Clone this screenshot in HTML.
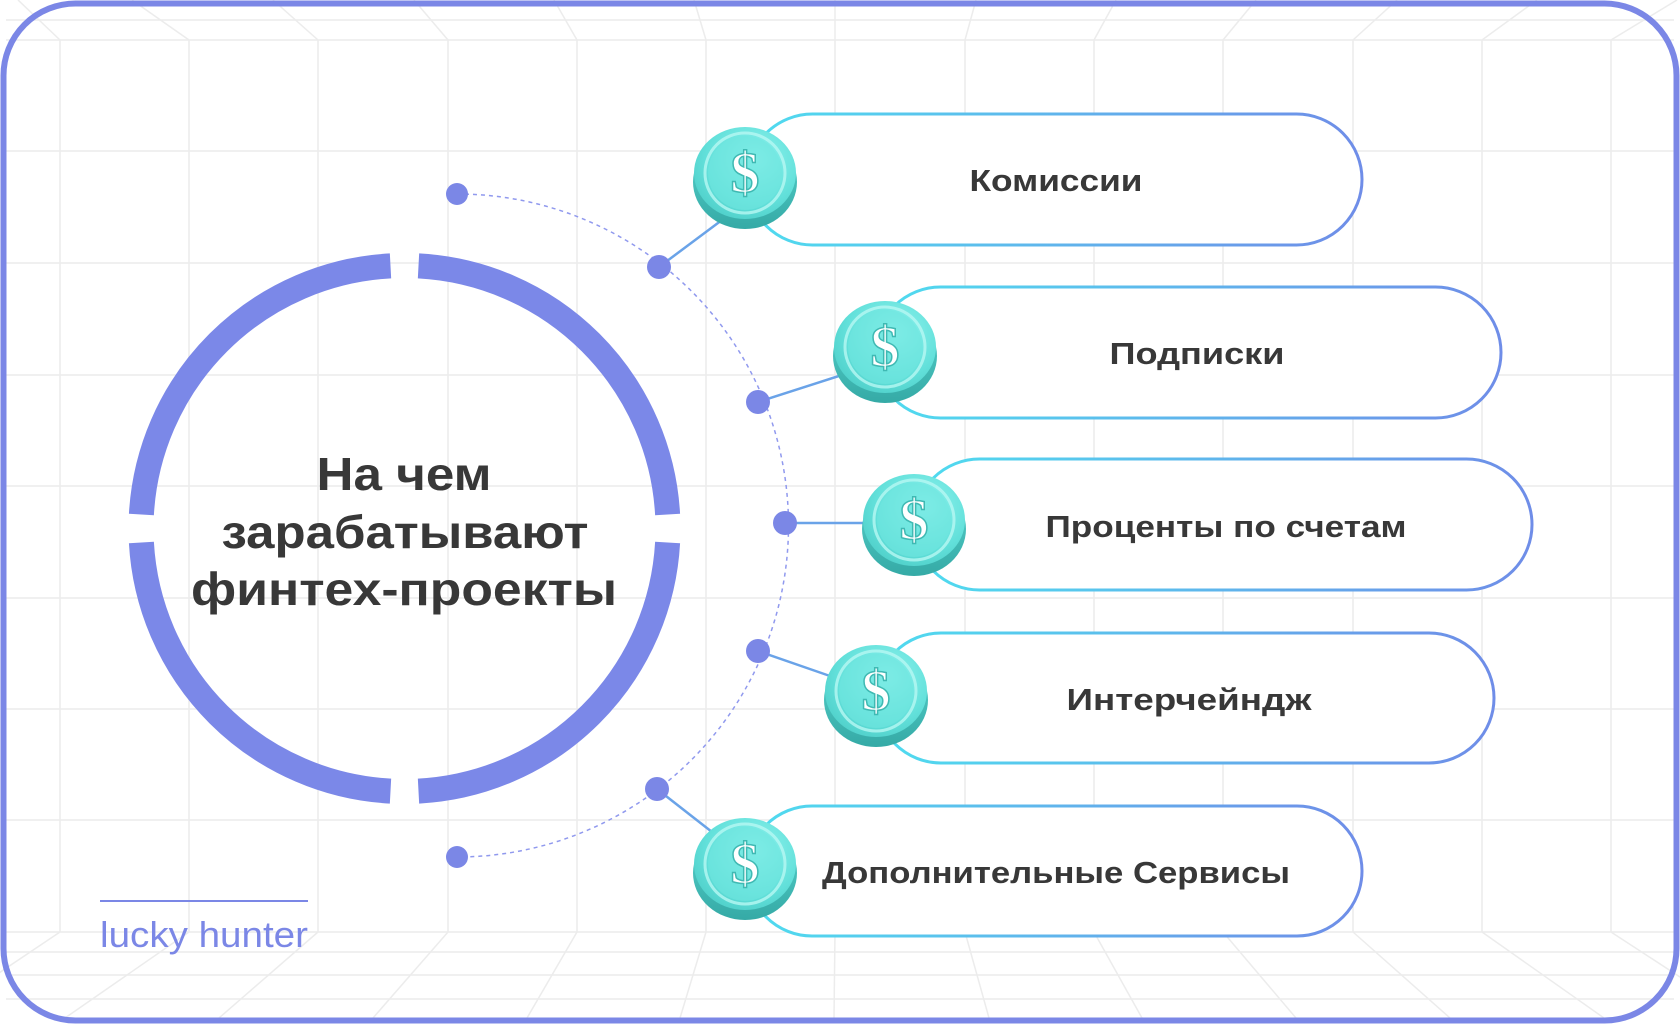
<!DOCTYPE html>
<html><head><meta charset="utf-8"><style>
html,body{margin:0;padding:0;background:#fff;}
svg{display:block;}
</style></head><body>
<svg width="1680" height="1024" viewBox="0 0 1680 1024" xmlns="http://www.w3.org/2000/svg">
<defs>
<linearGradient id="pg" x1="0" y1="0" x2="1" y2="0">
<stop offset="0" stop-color="#4fdcef"/><stop offset="1" stop-color="#6f8de8"/>
</linearGradient>
<radialGradient id="face" cx="0.6" cy="0.35" r="0.8">
<stop offset="0" stop-color="#8ff3ee"/><stop offset="0.6" stop-color="#62e0da"/><stop offset="1" stop-color="#48c9c3"/>
</radialGradient>
<linearGradient id="body" x1="0" y1="0" x2="0" y2="1">
<stop offset="0" stop-color="#5ad6d0"/><stop offset="1" stop-color="#35aaa6"/>
</linearGradient>
<g id="coin">
<ellipse cx="0" cy="9" rx="52" ry="47" fill="url(#body)"/>
<ellipse cx="0" cy="0" rx="51" ry="46" fill="url(#face)"/>
<circle cx="0" cy="0" r="40" fill="none" stroke="#b6f7f3" stroke-width="3" opacity="0.8"/>
<circle cx="0" cy="0" r="37" fill="#6fe6e0" opacity="0.6"/>
<text x="0" y="19" text-anchor="middle" font-family="Liberation Serif, serif" font-size="58" font-weight="bold" fill="#fff" stroke="#3fb9b3" stroke-width="1.5">$</text>
</g>
</defs>
<rect width="1680" height="1024" fill="#fff"/>
<g stroke="#ececec" stroke-width="1.5" fill="none">
<line x1="6" y1="20" x2="1674" y2="20"/>
<line x1="6" y1="40" x2="1674" y2="40"/>
<line x1="6" y1="151" x2="1674" y2="151"/>
<line x1="6" y1="263" x2="1674" y2="263"/>
<line x1="6" y1="375" x2="1674" y2="375"/>
<line x1="6" y1="486" x2="1674" y2="486"/>
<line x1="6" y1="598" x2="1674" y2="598"/>
<line x1="6" y1="709" x2="1674" y2="709"/>
<line x1="6" y1="820" x2="1674" y2="820"/>
<line x1="6" y1="932" x2="1674" y2="932"/>
<line x1="6" y1="952" x2="1674" y2="952"/>
<line x1="6" y1="975" x2="1674" y2="975"/>
<line x1="6" y1="999" x2="1674" y2="999"/>
<line x1="60" y1="40" x2="60" y2="932"/><line x1="60" y1="40" x2="18" y2="0"/><line x1="60" y1="932" x2="-68" y2="1018"/>
<line x1="189" y1="40" x2="132" y2="0"/><line x1="189" y1="40" x2="189" y2="932"/><line x1="189" y1="932" x2="65" y2="1018"/>
<line x1="318" y1="40" x2="273" y2="0"/><line x1="318" y1="40" x2="318" y2="932"/><line x1="318" y1="932" x2="219" y2="1018"/>
<line x1="448" y1="40" x2="414" y2="0"/><line x1="448" y1="40" x2="448" y2="932"/><line x1="448" y1="932" x2="373" y2="1018"/>
<line x1="577" y1="40" x2="554" y2="0"/><line x1="577" y1="40" x2="577" y2="932"/><line x1="577" y1="932" x2="527" y2="1018"/>
<line x1="706" y1="40" x2="694" y2="0"/><line x1="706" y1="40" x2="706" y2="932"/><line x1="706" y1="932" x2="680" y2="1018"/>
<line x1="835" y1="40" x2="835" y2="0"/><line x1="835" y1="40" x2="835" y2="932"/><line x1="835" y1="932" x2="834" y2="1018"/>
<line x1="965" y1="40" x2="976" y2="0"/><line x1="965" y1="40" x2="965" y2="932"/><line x1="965" y1="932" x2="989" y2="1018"/>
<line x1="1094" y1="40" x2="1116" y2="0"/><line x1="1094" y1="40" x2="1094" y2="932"/><line x1="1094" y1="932" x2="1142" y2="1018"/>
<line x1="1223" y1="40" x2="1256" y2="0"/><line x1="1223" y1="40" x2="1223" y2="932"/><line x1="1223" y1="932" x2="1296" y2="1018"/>
<line x1="1353" y1="40" x2="1397" y2="0"/><line x1="1353" y1="40" x2="1353" y2="932"/><line x1="1353" y1="932" x2="1450" y2="1018"/>
<line x1="1482" y1="40" x2="1537" y2="0"/><line x1="1482" y1="40" x2="1482" y2="932"/><line x1="1482" y1="932" x2="1604" y2="1018"/>
<line x1="1611" y1="40" x2="1677" y2="0"/><line x1="1611" y1="40" x2="1611" y2="932"/><line x1="1611" y1="932" x2="1700" y2="990"/>
</g>
<rect x="3.5" y="3.5" width="1673" height="1017" rx="72" fill="none" stroke="#7b87e6" stroke-width="6"/>

<!-- ring -->
<g fill="none" stroke="#7b88e8" stroke-width="25">
<path d="M 390.5 265.9 A 263.5 263.5 0 0 0 141.4 514.5"/>
<path d="M 418.5 265.9 A 263.5 263.5 0 0 1 667.6 514.5"/>
<path d="M 141.4 542.5 A 263.5 263.5 0 0 0 390.5 791.1"/>
<path d="M 667.6 542.5 A 263.5 263.5 0 0 1 418.5 791.1"/>
</g>
<g font-family="Liberation Sans, sans-serif" font-weight="bold" font-size="46" fill="#383838" text-anchor="middle">
<text x="404" y="490" textLength="175" lengthAdjust="spacingAndGlyphs">На чем</text>
<text x="405" y="548" textLength="367" lengthAdjust="spacingAndGlyphs">зарабатывают</text>
<text x="404" y="605" textLength="426" lengthAdjust="spacingAndGlyphs">финтех-проекты</text>
</g>

<!-- dashed arc -->
<path d="M 457 194 A 331 331 0 0 1 457 857" fill="none" stroke="#9099ee" stroke-width="1.5" stroke-dasharray="4 4"/>
<g stroke="#6aa3e8" stroke-width="2.5">
<line x1="659" y1="267" x2="722" y2="220"/>
<line x1="758" y1="402" x2="842" y2="375"/>
<line x1="785" y1="523" x2="866" y2="523"/>
<line x1="758" y1="651" x2="830" y2="676"/>
<line x1="657" y1="789" x2="712" y2="832"/>
</g>
<g fill="#7b87e6">
<circle cx="457" cy="194" r="11"/>
<circle cx="659" cy="267" r="12"/>
<circle cx="758" cy="402" r="12"/>
<circle cx="785" cy="523" r="12"/>
<circle cx="758" cy="651" r="12"/>
<circle cx="657" cy="789" r="12"/>
<circle cx="457" cy="857" r="11"/>
</g>

<!-- pills -->
<g fill="#fff" stroke="url(#pg)" stroke-width="3">
<rect x="747" y="114" width="615" height="131" rx="65.5"/>
<rect x="875" y="287" width="626" height="131" rx="65.5"/>
<rect x="914" y="459" width="618" height="131" rx="65.5"/>
<rect x="876" y="633" width="618" height="130" rx="65"/>
<rect x="747" y="806" width="615" height="130" rx="65"/>
</g>
<g font-family="Liberation Sans, sans-serif" font-weight="bold" font-size="31" fill="#383838" text-anchor="middle">
<text x="1056" y="191" textLength="173" lengthAdjust="spacingAndGlyphs">Комиссии</text>
<text x="1197" y="364" textLength="175" lengthAdjust="spacingAndGlyphs">Подписки</text>
<text x="1226" y="537" textLength="361" lengthAdjust="spacingAndGlyphs">Проценты по счетам</text>
<text x="1189" y="710" textLength="245" lengthAdjust="spacingAndGlyphs">Интерчейндж</text>
<text x="1056" y="883" textLength="468" lengthAdjust="spacingAndGlyphs">Дополнительные Сервисы</text>
</g>

<!-- coins -->
<use href="#coin" x="745" y="173"/>
<use href="#coin" x="885" y="347"/>
<use href="#coin" x="914" y="520"/>
<use href="#coin" x="876" y="691"/>
<use href="#coin" x="745" y="864"/>

<!-- logo -->
<line x1="100" y1="901" x2="308" y2="901" stroke="#7b87e6" stroke-width="2"/>
<text x="100" y="947" font-family="Liberation Sans, sans-serif" font-size="36" fill="#7b87e6" textLength="208" lengthAdjust="spacingAndGlyphs">lucky hunter</text>
</svg>
</body></html>
